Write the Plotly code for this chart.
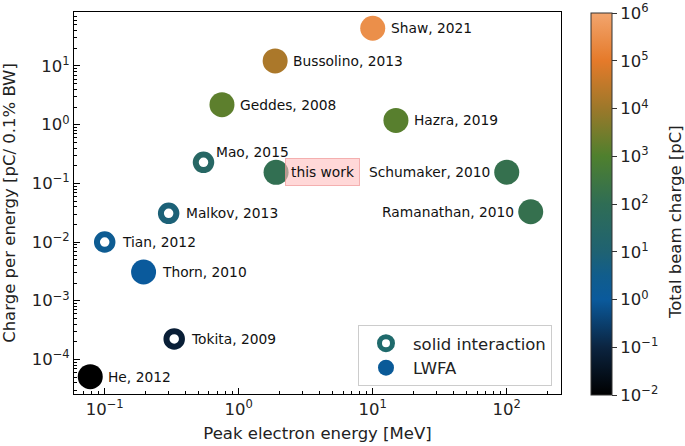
import math
import plotly.graph_objects as go

# ---- data ----
lwfa_names = ["Shaw, 2021", "Bussolino, 2013", "Geddes, 2008", "Hazra, 2019", "this work",
              "Schumaker, 2010", "Ramanathan, 2010", "Thorn, 2010", "He, 2012"]
lwfa_energy = [10.0, 1.87, 0.75, 14.9, 1.9, 100.0, 151.0, 0.195, 0.078]          # MeV
lwfa_cpe = [44.0, 12.2, 2.19, 1.18, 0.154, 0.155, 0.0328, 0.00308, 5.07e-5]     # pC / 0.1% BW
lwfa_charge = [3e5, 1.6e4, 1.5e3, 1.3e3, 1.2e2, 1.5e2, 1.5e2, 1.0, 1e-2]        # pC

solid_names = ["Mao, 2015", "Malkov, 2013", "Tian, 2012", "Tokita, 2009"]
solid_energy = [0.546, 0.30, 0.10, 0.33]
solid_cpe = [0.228, 0.0308, 0.0100, 2.23e-4]
solid_charge = [30.0, 8.0, 2.0, 0.07]

x_ticks = [0.1, 1, 10, 100]
x_ticktext = ["10<sup>−1</sup>", "10<sup>0</sup>", "10<sup>1</sup>", "10<sup>2</sup>"]
y_ticks = [1e-4, 1e-3, 1e-2, 1e-1, 1, 10]
y_ticktext = ["10<sup>−4</sup>", "10<sup>−3</sup>", "10<sup>−2</sup>", "10<sup>−1</sup>",
              "10<sup>0</sup>", "10<sup>1</sup>"]
cb_ticks = [-2, -1, 0, 1, 2, 3, 4, 5, 6]
cb_ticktext = ["10<sup>−2</sup>", "10<sup>−1</sup>", "10<sup>0</sup>", "10<sup>1</sup>",
               "10<sup>2</sup>", "10<sup>3</sup>", "10<sup>4</sup>", "10<sup>5</sup>",
               "10<sup>6</sup>"]

# label placement: (xshift, yshift, xanchor)
label_pos = {
    "Shaw, 2021": (16, 0, "left"), "Bussolino, 2013": (16, 0, "left"),
    "Geddes, 2008": (16, 0, "left"), "Hazra, 2019": (16, 0, "left"),
    "this work": (9, 0, "left"), "Schumaker, 2010": (-15, 0, "right"),
    "Ramanathan, 2010": (-15, 0, "right"), "Thorn, 2010": (16, 0, "left"),
    "He, 2012": (16, 0, "left"), "Mao, 2015": (10, 10, "left"),
    "Malkov, 2013": (15, 0, "left"), "Tian, 2012": (15, 0, "left"),
    "Tokita, 2009": (15, 0, "left"),
}

colorscale = [
    [0.0, "#000000"],
    [0.125, "#0b2440"],
    [0.25, "#0a5a9c"],
    [0.3125, "#115d8c"],
    [0.375, "#1f6272"],
    [0.5, "#2f6d55"],
    [0.625, "#4f802e"],
    [0.75, "#9c782a"],
    [0.875, "#e57a2a"],
    [1.0, "#f2a56e"],
]
CMIN, CMAX = -2, 6
FONT = "DejaVu Sans"
BIG = 16.5
SMALL = 13.8

fig = go.Figure()

fig.add_trace(go.Scatter(
    x=lwfa_energy, y=lwfa_cpe, mode="markers", showlegend=False,
    marker=dict(size=25, color=[math.log10(c) for c in lwfa_charge],
                colorscale=colorscale, cmin=CMIN, cmax=CMAX, line=dict(width=0),
                showscale=True,
                colorbar=dict(
                    x=1.0616, xanchor="left", xpad=0, y=0.497, yanchor="middle",
                    len=382, lenmode="pixels", thickness=21, ypad=0,
                    outlinewidth=1, outlinecolor="#333333",
                    tickvals=cb_ticks, ticktext=cb_ticktext, ticks="outside",
                    ticklen=5, tickcolor="#333333", ticklabeloverflow="allow",
                    tickfont=dict(family=FONT, size=BIG, color="#222222"),
                )),
))

fig.add_trace(go.Scatter(
    x=solid_energy, y=solid_cpe, mode="markers", showlegend=False,
    marker=dict(size=15.5, symbol="circle-open", color=[math.log10(c) for c in solid_charge],
                colorscale=colorscale, cmin=CMIN, cmax=CMAX, showscale=False,
                line=dict(width=6)),
))

# legend entries
fig.add_trace(go.Scatter(x=[None], y=[None], mode="markers", name="solid interaction",
                         marker=dict(size=13, symbol="circle-open", color="#1f6a6c",
                                     line=dict(width=5))))
fig.add_trace(go.Scatter(x=[None], y=[None], mode="markers", name="LWFA",
                         marker=dict(size=16, color="#0a5a98")))

for names, xs, ys in [(lwfa_names, lwfa_energy, lwfa_cpe), (solid_names, solid_energy, solid_cpe)]:
    for n, xv, yv in zip(names, xs, ys):
        dx, dy, anchor = label_pos[n]
        kw = {}
        if n == "this work":
            kw = dict(bgcolor="rgba(255,190,190,0.6)", bordercolor="rgba(240,150,150,0.7)",
                      borderwidth=1, borderpad=5)
        fig.add_annotation(x=math.log10(xv), y=math.log10(yv), text=n, showarrow=False,
                           xanchor=anchor, yanchor="middle", xshift=dx, yshift=dy,
                           font=dict(family=FONT, size=SMALL, color="#111111"), **kw)

# colorbar label
fig.add_annotation(x=1.234, y=0.45, xref="paper", yref="paper", text="Total beam charge [pC]",
                   textangle=-90, showarrow=False, xanchor="center", yanchor="middle",
                   font=dict(family=FONT, size=BIG, color="#222222"))

axis_common = dict(type="log", showgrid=False, zeroline=False, showline=True,
                   linecolor="black", linewidth=1, mirror=True, ticks="inside",
                   ticklen=6, tickcolor="black", automargin=False,
                   tickfont=dict(family=FONT, size=BIG, color="#222222"),
                   minor=dict(ticks="inside", ticklen=3, tickcolor="black", dtick="D1",
                              showgrid=False))

fig.update_xaxes(**axis_common, range=[math.log10(0.059), math.log10(254)],
                 tickvals=x_ticks, ticktext=x_ticktext,
                 title=dict(text="Peak electron energy [MeV]", standoff=9,
                            font=dict(family=FONT, size=BIG, color="#222222")))
fig.update_yaxes(**axis_common, range=[-4.59, 1.92],
                 tickvals=y_ticks, ticktext=y_ticktext,
                 title=dict(text="Charge per energy [pC/ 0.1% BW]", standoff=12,
                            font=dict(family=FONT, size=BIG, color="#222222")))

fig.update_layout(
    width=685, height=446,
    margin=dict(l=74, r=124, t=12, b=52, autoexpand=False),
    paper_bgcolor="white", plot_bgcolor="white",
    font=dict(family=FONT, size=BIG, color="#222222"),
    legend=dict(x=0.9815, xanchor="right", y=0.021, yanchor="bottom",
                bgcolor="white", bordercolor="#cccccc", borderwidth=1,
                font=dict(family=FONT, size=BIG, color="#222222"),
                itemwidth=44, tracegroupgap=0),
)

fig.write_html("out.html", config={"displayModeBar": False},
               post_script="document.body.style.margin='0';")
